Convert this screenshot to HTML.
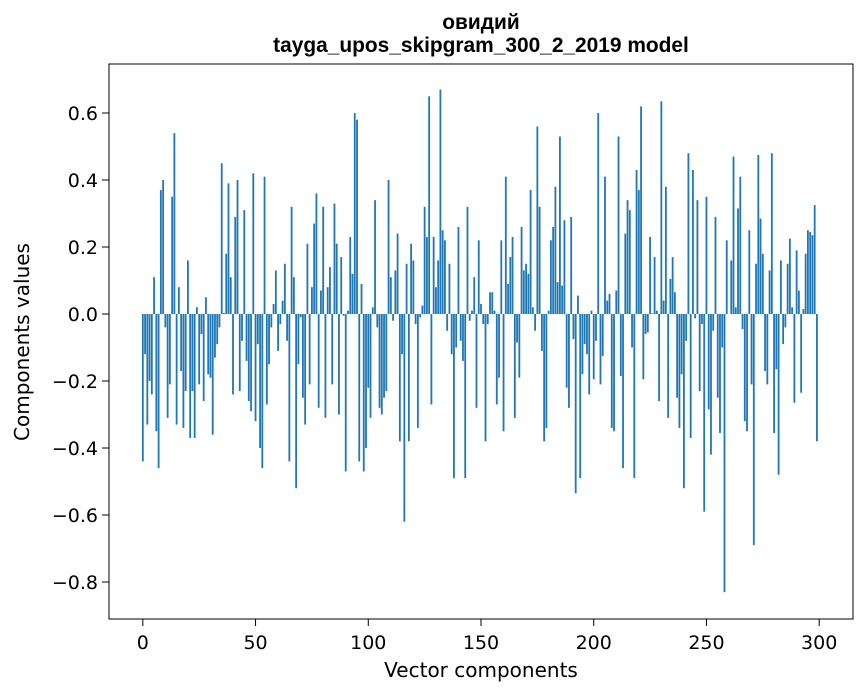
<!DOCTYPE html>
<html><head><meta charset="utf-8">
<style>
html,body{margin:0;padding:0;background:#fff;}
svg{display:block;font-family:"DejaVu Sans","Liberation Sans",sans-serif;}
.title{font-family:"Liberation Sans","DejaVu Sans",sans-serif;}
</style></head>
<body>
<svg id="chart" width="867" height="696" viewBox="0 0 867 696" xmlns="http://www.w3.org/2000/svg">
  <rect x="0" y="0" width="867" height="696" fill="#fff"/>
  <text class="title" x="481" y="29" text-anchor="middle" font-size="20.9" font-weight="bold" fill="#000">овидий</text>
  <text class="title" x="481" y="52" text-anchor="middle" font-size="20.9" font-weight="bold" fill="#000">tayga_upos_skipgram_300_2_2019 model</text>
  <g id="bars"></g>
  <g id="xticks"></g>
  <g id="yticks"></g>
  <rect x="109" y="64" width="744" height="555" fill="none" stroke="#000" stroke-width="1"/>
  <text x="481" y="677" text-anchor="middle" font-size="20" fill="#000">Vector components</text>
  <text transform="translate(29,342) rotate(-90)" text-anchor="middle" font-size="20" fill="#000">Components values</text>
</svg>
<script>
const values = [
-0.44,-0.12,-0.33,-0.20,-0.24,0.11,-0.35,-0.46,0.37,0.40,
-0.04,-0.31,-0.21,0.35,0.54,-0.33,0.08,-0.17,-0.34,-0.23,
0.16,-0.37,-0.23,-0.37,0.02,-0.21,-0.06,-0.26,0.05,-0.18,
-0.19,-0.36,-0.13,-0.09,-0.04,0.45,0.003,0.18,0.39,0.11,
-0.24,0.29,0.40,-0.23,-0.08,0.31,-0.14,-0.26,-0.29,0.42,
-0.32,-0.09,-0.40,-0.46,0.41,-0.27,-0.15,-0.04,0.03,0.13,
-0.11,-0.03,0.04,0.15,-0.08,-0.44,0.32,0.11,-0.52,-0.15,
-0.01,-0.25,-0.33,0.21,-0.21,0.08,0.27,0.36,-0.28,0.07,
0.32,-0.31,0.08,0.14,-0.21,0.33,0.21,-0.30,0.17,-0.005,
-0.47,0.01,0.23,0.12,0.60,0.58,-0.44,0.09,-0.47,-0.40,
-0.22,-0.31,0.02,0.34,-0.04,-0.28,-0.30,-0.25,-0.23,0.40,
0.11,-0.02,0.13,0.24,-0.38,-0.12,-0.62,0.15,-0.38,0.21,
0.16,-0.03,-0.34,-0.01,0.025,0.32,0.23,0.65,-0.27,0.23,
0.08,0.16,0.67,0.25,0.22,-0.05,0.15,-0.12,-0.49,-0.10,
0.26,-0.08,-0.14,-0.49,0.32,-0.02,0.01,0.11,-0.28,0.22,
0.03,-0.03,-0.38,-0.03,0.065,0.065,0.01,-0.27,-0.19,0.22,
-0.35,0.41,0.09,0.17,0.23,-0.31,-0.085,-0.19,0.26,0.13,
0.15,0.12,0.37,0.02,-0.05,0.56,0.32,-0.11,-0.38,-0.34,
0.01,0.22,0.26,0.38,0.095,0.53,0.085,0.28,-0.22,-0.28,
0.29,-0.075,-0.535,0.055,-0.49,-0.18,-0.09,-0.12,-0.24,0.01,
-0.195,-0.08,0.60,-0.21,-0.125,0.41,0.04,0.06,-0.34,-0.35,
0.07,0.53,-0.185,-0.46,0.24,0.34,0.31,-0.10,-0.49,0.43,
0.37,0.62,-0.195,-0.06,-0.055,0.23,0.002,0.17,0.01,-0.26,
0.635,0.04,0.38,-0.31,0.105,0.17,0.065,-0.25,-0.34,-0.18,
-0.52,-0.08,0.48,-0.37,0.43,-0.013,0.34,-0.23,-0.03,-0.59,
0.35,-0.285,-0.42,-0.05,0.29,-0.25,-0.355,-0.10,-0.83,0.22,
0.0,0.16,0.47,0.02,0.315,0.41,-0.045,-0.32,-0.35,0.25,
-0.21,-0.69,0.15,0.475,0.285,0.18,-0.17,-0.21,0.13,0.48,
-0.355,-0.165,-0.48,0.16,-0.09,-0.04,0.15,0.225,0.02,-0.265,
0.19,0.07,-0.235,0.015,0.18,0.25,0.245,0.235,0.325,-0.38
];
const xTickValues = [0,50,100,150,200,250,300];
const yTickValues = [-0.8,-0.6,-0.4,-0.2,0.0,0.2,0.4,0.6];
const yTickLabels = ["\u22120.8","\u22120.6","\u22120.4","\u22120.2","0.0","0.2","0.4","0.6"];

const NS = "http://www.w3.org/2000/svg";
const PL = 109, PR = 853, PT = 64, PB = 619;
const XMIN = -15, XMAX = 315;
const YMAX = 0.7463, YMIN = -0.9104;
function xs(v){ return PL + (v - XMIN) / (XMAX - XMIN) * (PR - PL); }
function ys(v){ return PT + (YMAX - v) / (YMAX - YMIN) * (PB - PT); }

const barsG = document.getElementById('bars');
const bw = xs(0.8) - xs(0);
values.forEach((v, i) => {
  const r = document.createElementNS(NS, 'rect');
  const y1 = ys(Math.max(v, 0)), y2 = ys(Math.min(v, 0));
  r.setAttribute('x', (xs(i) - bw / 2).toFixed(2));
  r.setAttribute('y', y1.toFixed(2));
  r.setAttribute('width', bw.toFixed(2));
  r.setAttribute('height', Math.max(y2 - y1, 0).toFixed(2));
  r.setAttribute('fill', '#1f77b4');
  
  
  barsG.appendChild(r);
});

const xg = document.getElementById('xticks');
xTickValues.forEach(t => {
  const x = xs(t);
  const l = document.createElementNS(NS, 'line');
  l.setAttribute('x1', x); l.setAttribute('x2', x);
  l.setAttribute('y1', PB); l.setAttribute('y2', PB + 7);
  l.setAttribute('stroke', '#000'); l.setAttribute('stroke-width', '1');
  
  
  xg.appendChild(l);
  const tx = document.createElementNS(NS, 'text');
  tx.setAttribute('x', x); tx.setAttribute('y', PB + 30);
  tx.setAttribute('text-anchor', 'middle'); tx.setAttribute('font-size', '19');
  tx.textContent = String(t);
  
  
  xg.appendChild(tx);
});

const yg = document.getElementById('yticks');
yTickValues.forEach((t, k) => {
  const y = ys(t);
  const l = document.createElementNS(NS, 'line');
  l.setAttribute('x1', PL - 7); l.setAttribute('x2', PL);
  l.setAttribute('y1', y); l.setAttribute('y2', y);
  l.setAttribute('stroke', '#000'); l.setAttribute('stroke-width', '1');
  
  
  yg.appendChild(l);
  const tx = document.createElementNS(NS, 'text');
  tx.setAttribute('x', PL - 11); tx.setAttribute('y', y + 7);
  tx.setAttribute('text-anchor', 'end'); tx.setAttribute('font-size', '19');
  tx.textContent = yTickLabels[k];
  
  
  yg.appendChild(tx);
});
</script>
</body></html>
